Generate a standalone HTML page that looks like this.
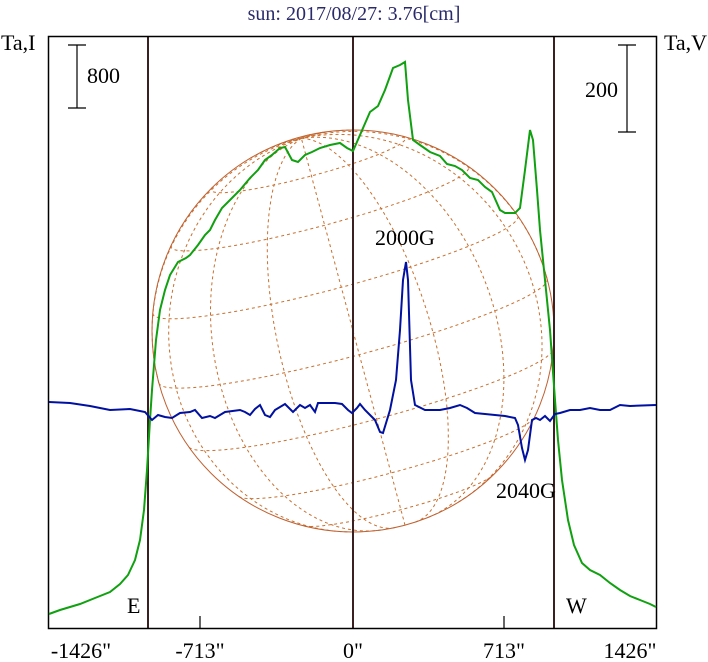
<!DOCTYPE html>
<html><head><meta charset="utf-8"><style>
html,body{margin:0;padding:0;background:#fff;}
svg{display:block;font-family:"Liberation Serif",serif;}
</style></head><body>
<svg id="s" width="708" height="662" viewBox="0 0 708 662" xmlns="http://www.w3.org/2000/svg">
<rect width="708" height="662" fill="#fff"/>
<text x="354" y="20" text-anchor="middle" font-size="20" fill="#2a2a6a">sun: 2017/08/27: 3.76[cm]</text>
<text x="1" y="50" font-size="22">Ta,I</text>
<text x="664" y="50" font-size="22">Ta,V</text>
<g id="grid" fill="none" stroke="#c87030" stroke-width="1" stroke-dasharray="3,3"></g>
<circle cx="353" cy="331" r="201" fill="none" stroke="#c06030" stroke-width="1"/>
<g stroke="#3a2020" stroke-width="2">
<line x1="148" y1="36" x2="148" y2="628"/>
<line x1="353" y1="36" x2="353" y2="628"/>
<line x1="554" y1="36" x2="554" y2="628"/>
</g>
<rect x="48.5" y="36.5" width="608" height="592" fill="none" stroke="#000" stroke-width="1.5"/>
<g stroke="#000" stroke-width="1.2">
<line x1="200" y1="628" x2="200" y2="616"/><line x1="504" y1="628" x2="504" y2="616"/>
<line x1="77" y1="45" x2="77" y2="108"/><line x1="68" y1="45" x2="86" y2="45"/><line x1="68" y1="108" x2="86" y2="108"/>
<line x1="627" y1="45" x2="627" y2="132"/><line x1="618" y1="45" x2="636" y2="45"/><line x1="618" y1="132" x2="636" y2="132"/>
</g>
<text x="87" y="83" font-size="22">800</text>
<text x="585" y="97" font-size="22">200</text>
<polyline fill="none" stroke="#10a010" stroke-width="2" points="49,614 60,610 80,604 95,598 110,592 120,584 128,575 135,560 140,540 144,510 147,470 150,420 152,390 156,340 160,310 165,290 170,275 178,262 186,258 190,255 198,245 205,235 210,230 215,220 222,208 230,200 240,190 250,178 258,170 265,160 272,155 280,148 285,147 292,160 298,162 305,155 312,152 320,148 330,145 340,143 347,148 353,151 360,135 370,112 378,106 385,90 393,68 400,65 405,62 408,100 413,140 420,145 430,152 440,156 447,164 455,166 462,170 470,178 478,180 485,187 492,192 500,210 505,213 515,213 520,208 525,170 530,130 533,140 537,190 540,230 545,280 550,330 555,400 558,440 562,480 568,520 574,545 582,563 590,570 600,575 610,583 620,590 630,596 640,600 650,604 656,607"/>
<polyline fill="none" stroke="#0010a0" stroke-width="2" points="49,402 70,403 90,406 110,410 130,409 145,412 152,420 158,415 165,417 172,418 180,413 190,412 195,410 202,418 210,416 215,418 225,412 240,410 245,412 250,415 255,409 260,405 265,415 270,417 275,410 285,404 293,412 300,405 305,408 310,405 315,412 318,403 335,403 342,404 348,410 352,413 357,408 360,404 365,410 375,420 380,432 383,433 390,410 396,380 400,330 403,280 406,262 408,280 411,380 415,405 425,410 440,410 450,408 460,405 467,408 475,413 485,414 495,415 505,416 515,418 518,425 522,448 525,460 528,450 532,420 536,418 540,420 545,416 550,421 555,414 560,413 570,410 580,410 590,408 600,410 610,410 620,405 630,406 656,405"/>
<text x="375" y="245" font-size="22">2000G</text>
<text x="496" y="498" font-size="22">2040G</text>
<text x="127" y="613" font-size="22">E</text>
<text x="566" y="613" font-size="22">W</text>
<g font-size="22" text-anchor="middle">
<text x="81" y="658">-1426"</text><text x="200" y="658">-713"</text><text x="353" y="658">0"</text><text x="504" y="658">713"</text><text x="630" y="658">1426"</text>
</g>
<script>
(function(){
var g=document.getElementById('grid'),cx=353,cy=331,R=201,B=7*Math.PI/180,P=15*Math.PI/180,d=Math.PI/180;
function pt(la,lo){var x=R*Math.cos(la)*Math.sin(lo),y=R*(Math.sin(la)*Math.cos(B)-Math.cos(la)*Math.cos(lo)*Math.sin(B)),z=Math.sin(la)*Math.sin(B)+Math.cos(la)*Math.cos(lo)*Math.cos(B);
return [cx+x*Math.cos(P)-y*Math.sin(P),cy-(x*Math.sin(P)+y*Math.cos(P)),z];}
function line(f){var s='',pen=false;for(var t=0;t<=180;t++){var p=f(t);if(p[2]>0){s+=(pen?'L':'M')+p[0].toFixed(1)+','+p[1].toFixed(1);pen=true;}else pen=false;}
var e=document.createElementNS('http://www.w3.org/2000/svg','path');e.setAttribute('d',s);g.appendChild(e);}
for(var la=-60;la<=60;la+=20)(function(la){line(function(t){return pt(la*d,(t*2-180)*d);});})(la);
for(var lo=-180;lo<180;lo+=22.5)(function(lo){line(function(t){return pt((t-90)*d,lo*d);});})(lo);
})();
</script>
</svg>
</body></html>
